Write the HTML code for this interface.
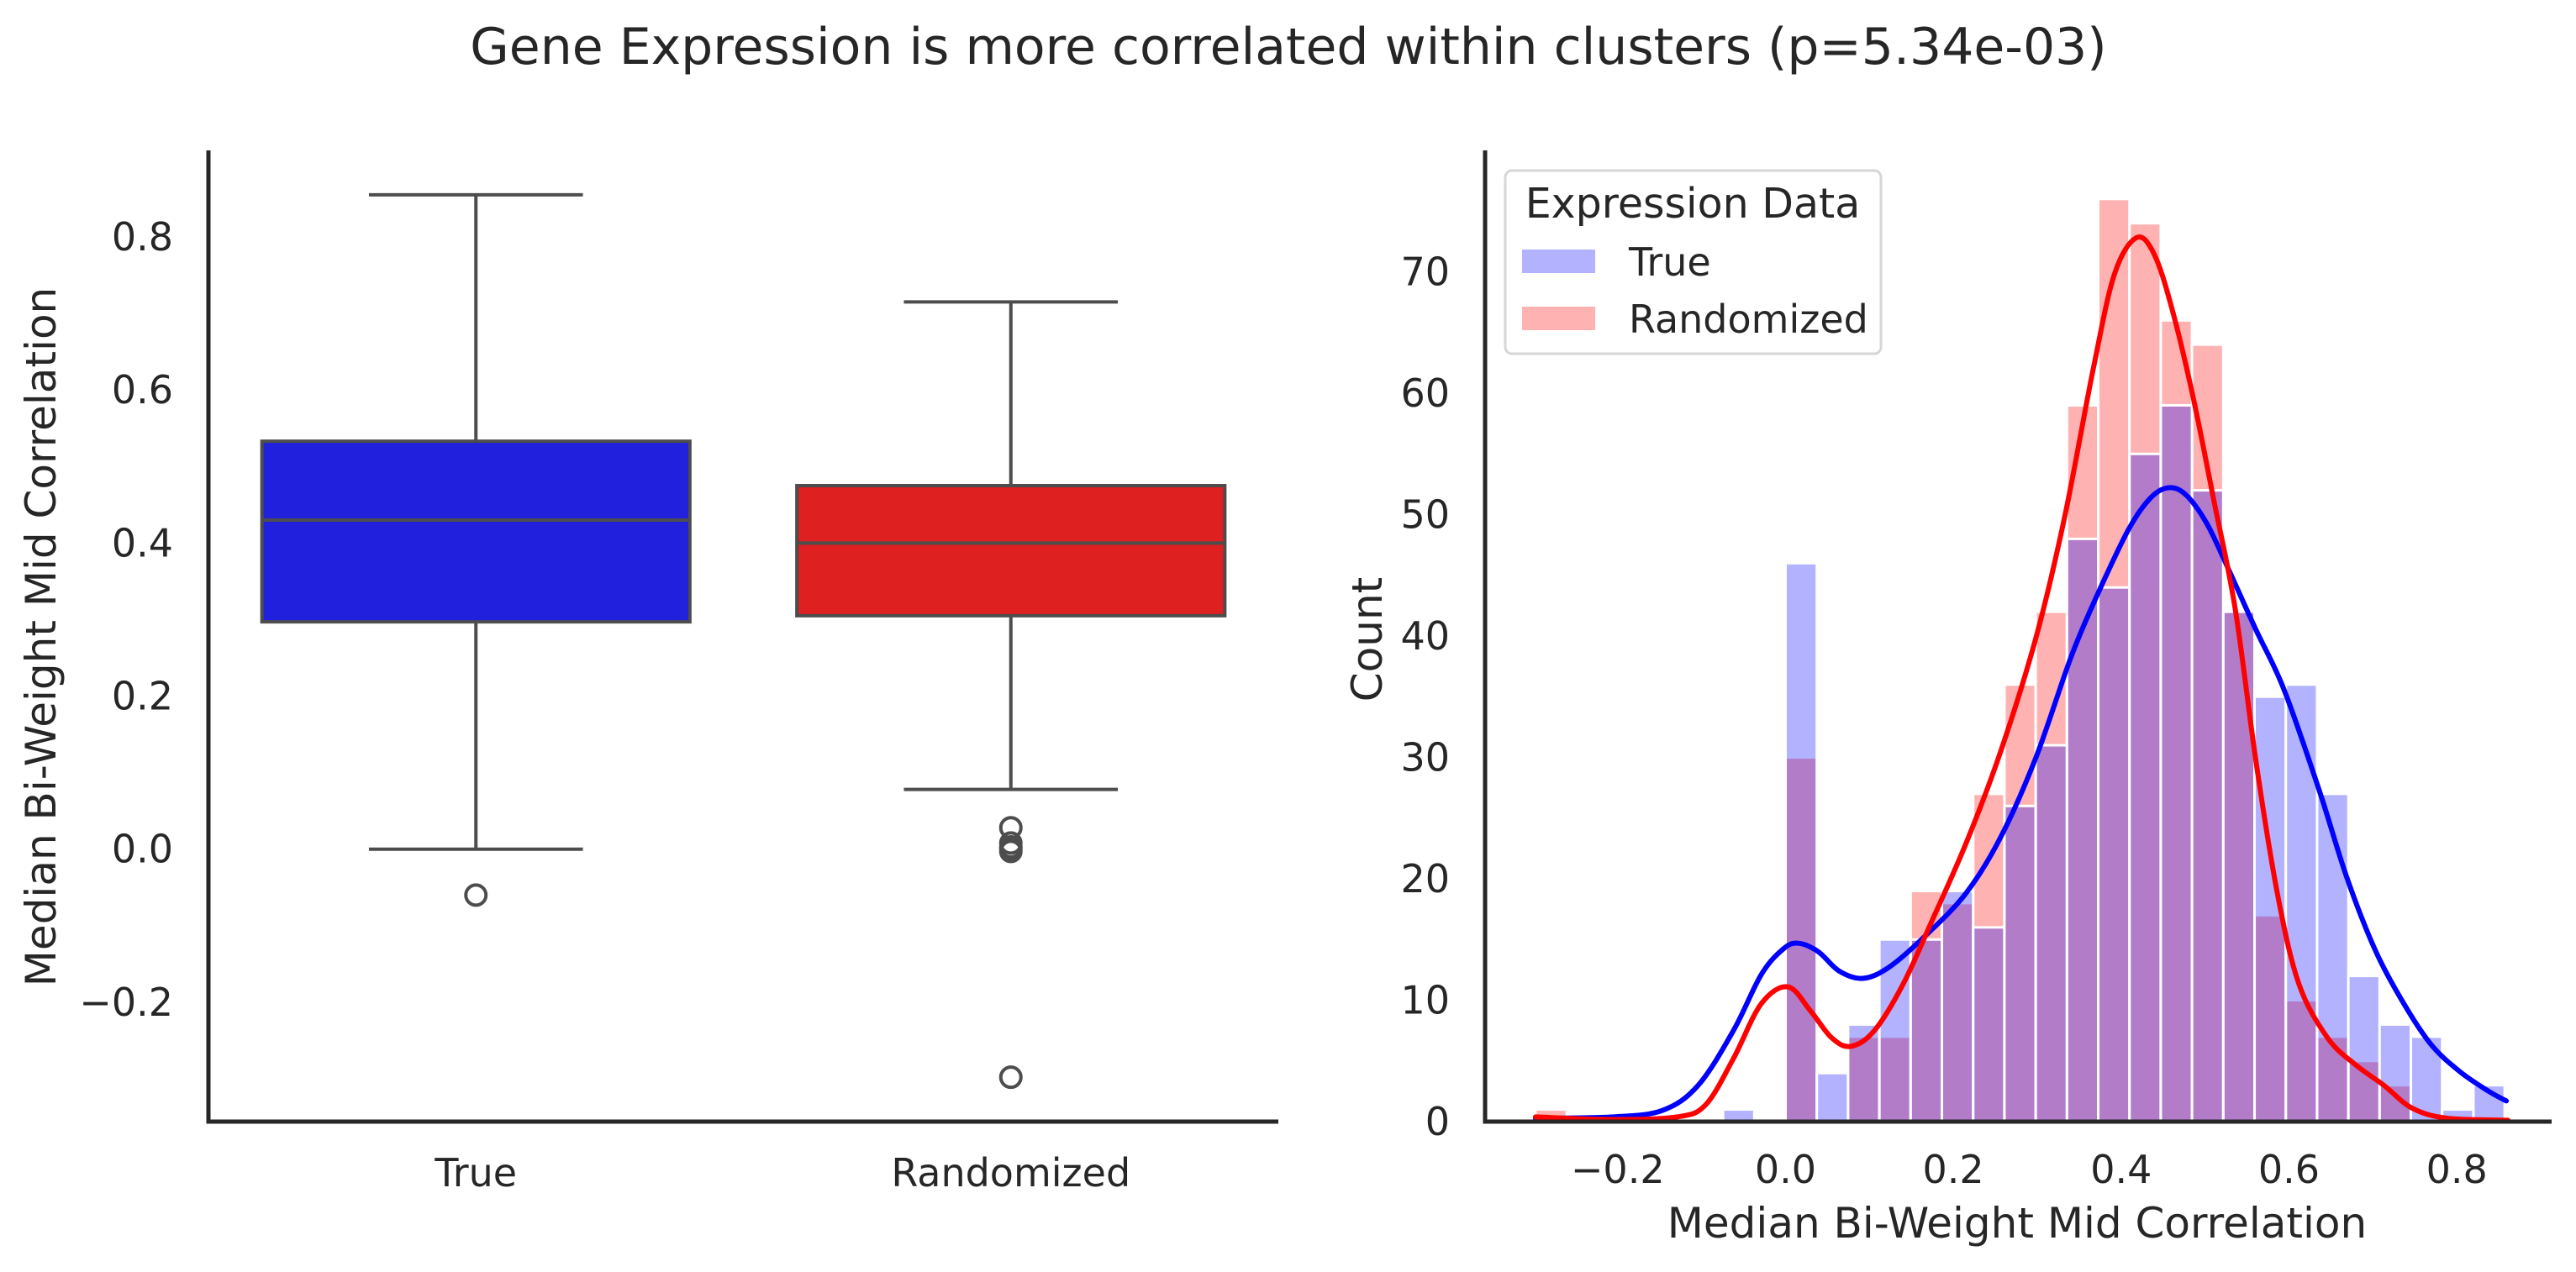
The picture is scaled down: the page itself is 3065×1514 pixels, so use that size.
<!DOCTYPE html>
<html><head><meta charset="utf-8"><style>
html,body{margin:0;padding:0;background:#fff;}
svg{display:block;font-family:"DejaVu Sans","Liberation Sans",sans-serif;}
</style></head><body>
<svg id="fig" width="3065" height="1514" viewBox="0 0 3065 1514" xmlns="http://www.w3.org/2000/svg">
<text x="1533" y="76" font-size="60" text-anchor="middle" fill="#262626">Gene Expression is more correlated within clusters (p=5.34e-03)</text>
<g id="left"></g>
<g id="right"></g>
</svg>
<script>
// ---- Box plot data ----
const boxCategories = ["True", "Randomized"];
const boxFills = ["#2020dd", "#de2020"];
const whiskerHigh = [0.855, 0.715];
const q3Values = [0.533, 0.475];
const medianValues = [0.430, 0.400];
const q1Values = [0.297, 0.305];
const whiskerLow = [0.000, 0.078];
const outliersTrue = [-0.060];
const outliersRandomized = [0.028, 0.008, 0.003, 0.000, -0.003, -0.298];
const boxYTicks = [-0.2, 0.0, 0.2, 0.4, 0.6, 0.8];

// ---- Histogram data ----
const binStart = -0.298;
const binWidth = 0.03726;
const countsRandomized = [1,0,0,0,0,0,0,0,30,0,7,7,19,18,27,36,42,59,76,74,66,64,42,17,10,7,5,3,0,0,0];
const countsTrue = [0,0,0,0,0,0,1,0,46,4,8,15,15,19,16,26,31,48,44,55,59,52,42,35,36,27,12,8,7,1,3];
const kdeTrueX = [-0.298,-0.205,-0.146,-0.104,-0.062,-0.029,-0.003,0.015,0.039,0.064,0.092,0.123,0.165,0.215,0.257,0.299,0.341,0.375,0.409,0.434,0.455,0.476,0.501,0.526,0.560,0.594,0.636,0.669,0.703,0.737,0.770,0.804,0.838,0.859];
const kdeTrueY = [0.28,0.39,0.94,3.0,7.5,12.1,14.2,14.7,14.0,12.4,11.8,12.7,15.2,18.8,23.5,30.1,38.4,43.9,48.8,51.3,52.2,51.7,49.4,45.8,40.6,35.6,27.3,20.1,14.1,9.7,6.3,4.1,2.5,1.7];
const kdeRandX = [-0.298,-0.205,-0.129,-0.095,-0.062,-0.029,0.003,0.030,0.055,0.078,0.106,0.140,0.173,0.215,0.257,0.299,0.333,0.367,0.392,0.418,0.439,0.460,0.485,0.511,0.536,0.561,0.587,0.612,0.646,0.679,0.713,0.747,0.789,0.861];
const kdeRandY = [0.39,0.17,0.39,1.4,5.2,9.7,11.1,9.1,6.9,6.2,7.5,11.3,16.3,22.9,30.6,40.0,49.9,62.1,69.8,72.8,71.5,67.1,59.9,51.0,42.2,29.5,18.5,11.3,6.9,4.7,3.0,1.1,0.28,0.11];
const histXTicks = [-0.2, 0.0, 0.2, 0.4, 0.6, 0.8];
const histYTicks = [0,10,20,30,40,50,60,70];

const NS = "http://www.w3.org/2000/svg";
function mk(parent, tag, attrs, text) {
  const e = document.createElementNS(NS, tag);
  for (const k in attrs) e.setAttribute(k, attrs[k]);
  if (text !== undefined) e.textContent = text;
  parent.appendChild(e);
  return e;
}
function fmt(v){ return (v < 0 ? "\u2212" : "") + Math.abs(v).toFixed(1); }

// ===== Left panel =====
const L = document.getElementById("left");
const lx0 = 248, lx1 = 1521, ly0 = 179, ly1 = 1335;
const lyMin = -0.356, lyMax = 0.913;
const ly = v => ly1 - (v - lyMin) / (lyMax - lyMin) * (ly1 - ly0);
const catW = (lx1 - lx0) / 2;
const lx = i => lx0 + catW * (i + 0.5);

boxYTicks.forEach(t => {
  const e = mk(L, "text", {x: 206, y: ly(t) + 16, "font-size": 46, "text-anchor": "end", fill: "#262626"}, fmt(t));
  
  
});
const lyl = mk(L, "text", {x: 0, y: 0, "font-size": 50, "text-anchor": "middle", fill: "#262626", transform: "translate(66,758) rotate(-90)"}, "Median Bi-Weight Mid Correlation");



const lineC = "#4d4d4d";
boxCategories.forEach((c, i) => {
  const cx = lx(i), hw = catW * 0.4, cw = catW * 0.2;
  const g = mk(L, "g", {});
  
  
  mk(g, "line", {x1: cx, x2: cx, y1: ly(whiskerHigh[i]), y2: ly(q3Values[i]), stroke: lineC, "stroke-width": 4});
  mk(g, "line", {x1: cx, x2: cx, y1: ly(q1Values[i]), y2: ly(whiskerLow[i]), stroke: lineC, "stroke-width": 4});
  mk(g, "line", {x1: cx - cw, x2: cx + cw, y1: ly(whiskerHigh[i]), y2: ly(whiskerHigh[i]), stroke: lineC, "stroke-width": 4});
  mk(g, "line", {x1: cx - cw, x2: cx + cw, y1: ly(whiskerLow[i]), y2: ly(whiskerLow[i]), stroke: lineC, "stroke-width": 4});
  mk(g, "rect", {x: cx - hw, y: ly(q3Values[i]), width: hw * 2, height: ly(q1Values[i]) - ly(q3Values[i]), fill: boxFills[i], stroke: lineC, "stroke-width": 4});
  mk(g, "line", {x1: cx - hw, x2: cx + hw, y1: ly(medianValues[i]), y2: ly(medianValues[i]), stroke: lineC, "stroke-width": 4});
  const outs = i === 0 ? outliersTrue : outliersRandomized;
  outs.forEach(o => {
    const p = mk(g, "circle", {cx: cx, cy: ly(o), r: 12, fill: "none", stroke: lineC, "stroke-width": 4});
    
    
  });
  const t = mk(L, "text", {x: cx, y: 1412, "font-size": 46, "text-anchor": "middle", fill: "#262626"}, c);
  
  
});
const lsp = mk(L, "path", {d: `M${lx0},${ly0} V${ly1} H${lx1}`, fill: "none", stroke: "#262626", "stroke-width": 5});



// ===== Right panel =====
const R = document.getElementById("right");
const rx0 = 1767, rx1 = 3036, ry0 = 179, ry1 = 1335;
const rxMin = -0.358, rxMax = 0.913, ryMax = 80;
const rx = v => rx0 + (v - rxMin) / (rxMax - rxMin) * (rx1 - rx0);
const ry = v => ry1 - v / ryMax * (ry1 - ry0);

histYTicks.forEach(t => {
  const e = mk(R, "text", {x: 1725, y: ry(t) + 16, "font-size": 46, "text-anchor": "end", fill: "#262626"}, String(t));
  
  
});
histXTicks.forEach(t => {
  const e = mk(R, "text", {x: rx(t), y: 1408, "font-size": 46, "text-anchor": "middle", fill: "#262626"}, fmt(t));
  
  
});
const ryl = mk(R, "text", {x: 0, y: 0, "font-size": 50, "text-anchor": "middle", fill: "#262626", transform: "translate(1644,761) rotate(-90)"}, "Count");


const rxl = mk(R, "text", {x: 2400, y: 1473, "font-size": 50, "text-anchor": "middle", fill: "#262626"}, "Median Bi-Weight Mid Correlation");



function drawBars(counts, color, name) {
  counts.forEach((c, i) => {
    if (c <= 0) return;
    const a = binStart + i * binWidth;
    const b = mk(R, "rect", {x: rx(a), y: ry(c), width: rx(a + binWidth) - rx(a), height: ry(0) - ry(c), fill: color, "fill-opacity": 0.3, stroke: "#fff", "stroke-width": 3});
    
    
  });
}
drawBars(countsRandomized, "#ff0000", "bar-randomized");
drawBars(countsTrue, "#0000ff", "bar-true");

function drawLine(xs, ys, color, name) {
  const P = xs.map((x, i) => [rx(x), ry(ys[i])]);
  let d = "M" + P[0][0].toFixed(1) + "," + P[0][1].toFixed(1);
  for (let i = 0; i < P.length - 1; i++) {
    const p0 = P[Math.max(0, i - 1)], p1 = P[i], p2 = P[i + 1], p3 = P[Math.min(P.length - 1, i + 2)];
    const c1x = p1[0] + (p2[0] - p0[0]) / 6, c1y = p1[1] + (p2[1] - p0[1]) / 6;
    const c2x = p2[0] - (p3[0] - p1[0]) / 6, c2y = p2[1] - (p3[1] - p1[1]) / 6;
    d += ` C${c1x.toFixed(1)},${c1y.toFixed(1)} ${c2x.toFixed(1)},${c2y.toFixed(1)} ${p2[0].toFixed(1)},${p2[1].toFixed(1)}`;
  }
  const p = mk(R, "path", {d: d, fill: "none", stroke: color, "stroke-width": 6, "stroke-linejoin": "round", "stroke-linecap": "round"});
  
  
}
drawLine(kdeTrueX, kdeTrueY, "#0000ff", "kde-true");
drawLine(kdeRandX, kdeRandY, "#ff0000", "kde-randomized");

const rsp = mk(R, "path", {d: `M${rx0},${ry0} V${ry1} H${rx1}`, fill: "none", stroke: "#262626", "stroke-width": 5});



// legend
const lg = mk(R, "g", {});


mk(lg, "rect", {x: 1791, y: 203, width: 447, height: 218, rx: 8, fill: "#fff", "fill-opacity": 0.8, stroke: "#d6d6d6", "stroke-width": 3});
const lt = mk(lg, "text", {x: 2014, y: 259, "font-size": 49, "text-anchor": "middle", fill: "#262626"}, "Expression Data");


[["True", "#0000ff", 311], ["Randomized", "#ff0000", 379]].forEach(([lab, col, yy]) => {
  const e = mk(lg, "g", {});
  
  
  mk(e, "rect", {x: 1811, y: yy - 14, width: 87, height: 28, fill: col, "fill-opacity": 0.3});
  mk(e, "text", {x: 1938, y: yy + 17, "font-size": 46, fill: "#262626"}, lab);
});
</script>
</body></html>
